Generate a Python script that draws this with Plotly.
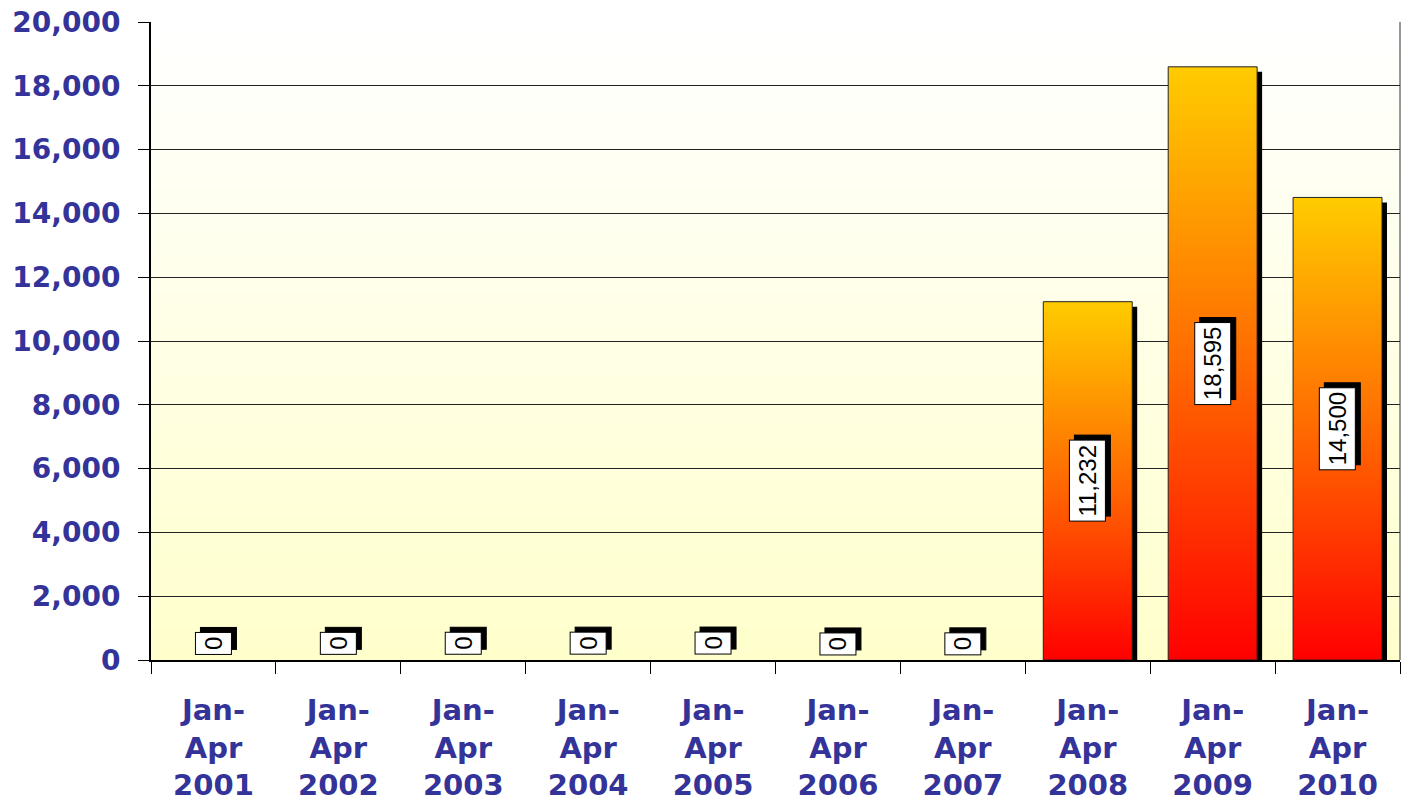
import plotly.graph_objects as go

# ---- data ----
periods = ["Jan-<br>Apr<br>2001", "Jan-<br>Apr<br>2002", "Jan-<br>Apr<br>2003", "Jan-<br>Apr<br>2004",
           "Jan-<br>Apr<br>2005", "Jan-<br>Apr<br>2006", "Jan-<br>Apr<br>2007", "Jan-<br>Apr<br>2008",
           "Jan-<br>Apr<br>2009", "Jan-<br>Apr<br>2010"]
values = [0, 0, 0, 0, 0, 0, 0, 11232, 18595, 14500]
value_labels = ["0", "0", "0", "0", "0", "0", "0", "11,232", "18,595", "14,500"]
y_tick_vals = [0, 2000, 4000, 6000, 8000, 10000, 12000, 14000, 16000, 18000, 20000]

# ---- style ----
BAR_W = 0.712
SH_DX = 0.04      # shadow offset in category units
SH_DY = 157       # shadow drop in value units (~5px)
TICK_COLOR = "#333399"
TICK_FONT = dict(family="Verdana, DejaVu Sans", size=28, color=TICK_COLOR, weight="bold")
LABEL_FONT = dict(family="Arial, Liberation Sans", size=24, color="black")

idx = list(range(len(values)))
fig = go.Figure()

# bar shadows
fig.add_trace(go.Bar(
    x=idx, y=[v - SH_DY if v > 0 else None for v in values],
    width=BAR_W, offset=-BAR_W / 2 + SH_DX,
    marker=dict(color="black", line=dict(width=0)),
    hoverinfo="skip", showlegend=False))

# gradient bars
for i, v in zip(idx, values):
    if v <= 0:
        continue
    x0, x1 = i - BAR_W / 2, i + BAR_W / 2
    fig.add_trace(go.Scatter(
        x=[x0, x1, x1, x0, x0], y=[0, 0, v, v, 0],
        mode="lines", fill="toself",
        fillgradient=dict(type="vertical",
                          colorscale=[[0, "#FF0000"], [0.5, "#FF6A00"], [1, "#FFCC00"]]),
        line=dict(color="#222222", width=1),
        hoverinfo="skip", showlegend=False))

# invisible trace carrying the category label axis
fig.add_trace(go.Scatter(x=idx, y=values, xaxis="x2", mode="none",
                         hoverinfo="skip", showlegend=False))

# background gradient strips (white top -> pale yellow bottom)
N = 80
shapes = []
for k in range(N):
    t = k / (N - 1)  # 0 bottom, 1 top
    b = int(round(204 + (255 - 204) * t))
    shapes.append(dict(type="rect", xref="x domain", yref="y domain",
                       x0=0, x1=1, y0=k / N, y1=(k + 1) / N + 0.002,
                       fillcolor=f"rgb(255,255,{b})", line=dict(width=0), layer="below"))
# right frame line
shapes.append(dict(type="line", xref="x domain", yref="y domain", x0=1, x1=1, y0=0, y1=1,
                   line=dict(color="#333333", width=1), layer="above"))

# value labels with shadows
annotations = []
for i, (v, lab) in enumerate(zip(values, value_labels)):
    if v > 0:
        y, yanchor, ys = v / 2, "middle", 0
    else:
        y, yanchor, ys = 0, "bottom", 5
    common = dict(x=i, y=y, xref="x", yref="y", text=lab, showarrow=False,
                  textangle=-90, xanchor="center", yanchor=yanchor, borderwidth=1, borderpad=4)
    annotations.append(dict(common, font=dict(LABEL_FONT, color="black"), bgcolor="black",
                            bordercolor="black", xshift=5, yshift=ys + 5))
    annotations.append(dict(common, font=LABEL_FONT, bgcolor="white",
                            bordercolor="black", yshift=ys))

fig.update_layout(
    width=1402, height=807,
    margin=dict(l=151, r=2, t=22, b=147),
    paper_bgcolor="white", plot_bgcolor="white",
    barmode="overlay", showlegend=False,
    shapes=shapes, annotations=annotations,
    xaxis=dict(range=[-0.5, 9.5], tickvals=[i - 0.5 for i in range(len(values) + 1)],
               ticks="outside", ticklen=12, tickwidth=1, tickcolor="black",
               showticklabels=False, showline=True, linecolor="black", linewidth=2,
               showgrid=False, zeroline=False),
    xaxis2=dict(overlaying="x", anchor="y", side="bottom", range=[-0.5, 9.5],
                tickvals=idx, ticktext=periods, ticks="", showline=False, showgrid=False,
                zeroline=False, tickfont=dict(TICK_FONT, size=29), ticklabelstandoff=30),
    yaxis=dict(range=[0, 20000], tickvals=y_tick_vals, tickformat=",d", ticks="outside",
               ticklen=11, tickwidth=1, tickcolor="black", showline=True, linecolor="black",
               linewidth=2, showgrid=True, gridcolor="#222222", gridwidth=1, zeroline=False,
               tickfont=TICK_FONT, ticklabelstandoff=12),
)

fig.write_html("out.html", config={"displayModeBar": False},
               post_script="document.body.style.margin='0';")
